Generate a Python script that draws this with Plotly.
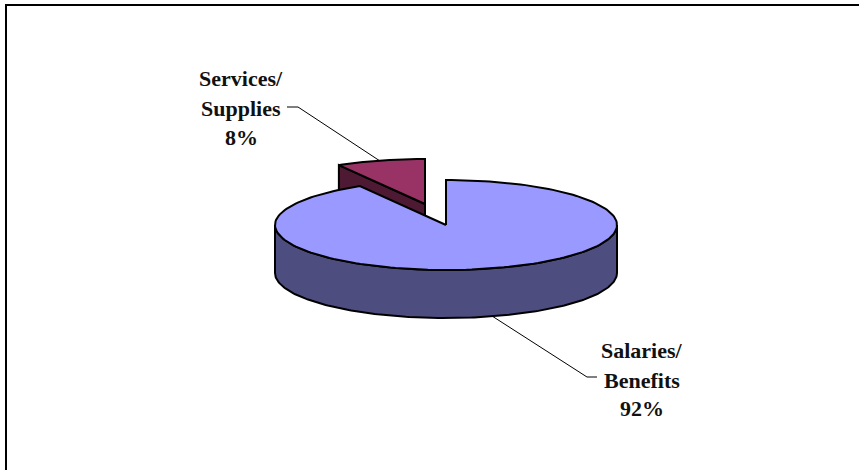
#!/usr/bin/env python
"""
Exploded 3D style pie of spending shares, drawn as filled scatter outlines
"""

import numpy as np
import plotly.graph_objs as go

categories = ["Salaries/ Benefits", "Services/ Supplies"]
shares = [91.6, 8.4]
label_lines = [["Salaries/", "Benefits", "92%"], ["Services/", "Supplies", "8%"]]

top_colors = ["#9999FF", "#993366"]
side_colors = ["#4D4D80", "#4D1933"]

WIDTH = 859
HEIGHT = 470
CENTER_X = 446
CENTER_Y = 225
RADIUS_X = 171
RADIUS_Y = 45
DEPTH = 48
EXPLODE = (-21, -21)
LINE = dict(color="black", width=2)
FONT = dict(family="Liberation Serif", size=22, color="#111111")


def arc(start, end, dx=0, dy=0, depth=0):
    """
    points of the tilted circle between two clockwise angles from 12 o'clock
    """
    theta = np.radians(np.linspace(start, end, 180))
    return (CENTER_X + dx + RADIUS_X * np.sin(theta),
            CENTER_Y + dy + depth - RADIUS_Y * np.cos(theta))


def poly(xvals, yvals, color):
    """
    closed filled outline
    """
    return go.Scatter(x=list(xvals), y=list(yvals), mode="lines", fill="toself",
                      fillcolor=color, line=LINE, hoverinfo="skip", showlegend=False)


def main():
    """
    Create the chart
    """
    main_angle = shares[0] / sum(shares) * 360
    dx, dy = EXPLODE
    apex_x, apex_y = CENTER_X + dx, CENTER_Y + dy

    fig = go.Figure()

    # small slice goes first, the big one hides the lower part of its cut face
    sx, sy = arc(main_angle, 360, dx, dy)
    fig.add_trace(poly([apex_x, sx[0], sx[0], apex_x, apex_x],
                       [apex_y, sy[0], sy[0] + DEPTH, apex_y + DEPTH, apex_y],
                       side_colors[1]))
    fig.add_trace(poly(np.r_[apex_x, sx, apex_x], np.r_[apex_y, sy, apex_y], top_colors[1]))

    # rim of the big slice, only the front half of the circle shows
    fx, fy = arc(90, 270)
    bx, by = arc(270, 90, depth=DEPTH)
    fig.add_trace(poly(np.r_[fx, bx, fx[0]], np.r_[fy, by, fy[0]], side_colors[0]))

    mx, my = arc(0, main_angle)
    fig.add_trace(poly(np.r_[CENTER_X, mx, CENTER_X], np.r_[CENTER_Y, my, CENTER_Y], top_colors[0]))

    # leader lines and outer frame
    for xvals, yvals in (([287, 298, 380], [107, 107, 161]), ([492, 587, 597], [316, 377, 377])):
        fig.add_trace(go.Scatter(x=xvals, y=yvals, mode="lines", hoverinfo="skip", showlegend=False,
                                 line=dict(color="black", width=1)))
    fig.add_trace(go.Scatter(x=[6, 6, WIDTH], y=[HEIGHT, 5, 5], mode="lines", hoverinfo="skip",
                             showlegend=False, line=dict(color="black", width=2)))

    for lines, xpos, ypos in ((label_lines[0], 642, (350, 380, 408)),
                              (label_lines[1], 241, (78, 108, 137))):
        for text, line_y in zip(lines, ypos):
            fig.add_annotation(x=xpos, y=line_y, text="<b>{}</b>".format(text), showarrow=False,
                               xanchor="center", yanchor="middle", font=FONT)

    fig.update_xaxes(range=[0, WIDTH], visible=False)
    fig.update_yaxes(range=[HEIGHT, 0], visible=False)
    fig.update_layout(width=WIDTH, height=HEIGHT, margin=dict(l=0, r=0, t=0, b=0),
                      paper_bgcolor="white", plot_bgcolor="white", showlegend=False)

    fig.write_html("out.html", post_script="document.body.style.margin='0';",
                   config=dict(displayModeBar=False))


if __name__ == '__main__':
    main()
